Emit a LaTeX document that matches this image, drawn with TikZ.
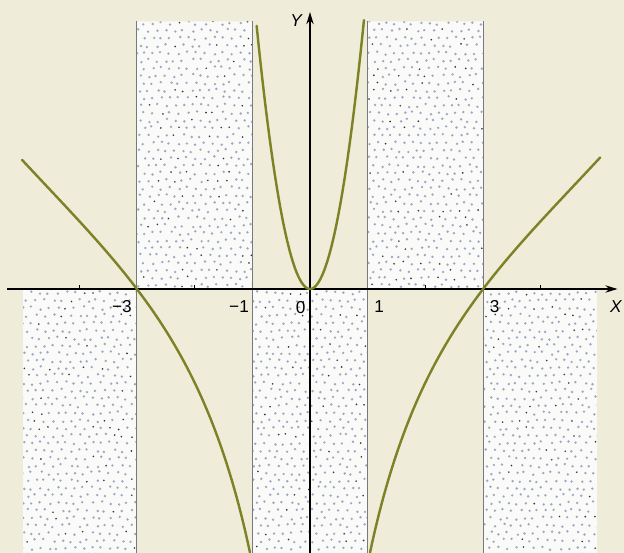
\documentclass[tikz,border=0pt]{standalone}
\usepackage{fontspec}
\setmainfont{Liberation Sans}
\usetikzlibrary{arrows.meta}
\definecolor{bg}{RGB}{239,237,218}
\definecolor{regionfill}{RGB}{250,250,248}
\definecolor{dotlight}{RGB}{160,166,198}
\definecolor{dotdark}{RGB}{50,50,70}
\definecolor{curvecol}{RGB}{125,130,38}
\definecolor{edgecol}{RGB}{120,120,128}
\tikzset{
  axisline/.style={line width=0.7pt, black},
  graphline/.style={line width=1.2pt, curvecol, line cap=round},
  border/.style={line width=0.45pt, edgecol},
  lab/.style={font=\fontsize{8.5}{10}\selectfont, inner sep=0pt},
  tickline/.style={line width=0.5pt, black},
  arrowtip/.style={-{Stealth[length=6pt,width=3.6pt]}},
  declare function={outer(\t)=6.326*ln(\t/3)-0.793*(\t-3)+0.1507*(\t-3)^2;}
}
\begin{document}
\begin{tikzpicture}
\useasboundingbox (-5.373,-4.575) rectangle (5.442,5.009);
\fill[bg] (-5.373,-4.575) rectangle (5.442,5.009);
% stippled regions
\begin{scope}
  \clip (-3,0) rectangle (-1,4.64)
        (1,0) rectangle (3,4.64)
        (-4.97,0) rectangle (-3,-4.575)
        (-1,0) rectangle (1,-4.575)
        (3,0) rectangle (4.97,-4.575);
  \fill[regionfill] (-5,-4.6) rectangle (5,4.7);
  \pgfmathsetseed{7}
  \foreach \i in {0,...,67}{
    \foreach \j in {0,...,72}{
      \pgfmathsetmacro\px{-5.05+\i*0.15+0.075*mod(\j,2)+0.03*rand}
      \pgfmathsetmacro\py{-4.62+\j*0.13+0.03*rand}
      \pgfmathsetmacro\cc{rnd}
      \ifdim\cc pt<0.10pt
        \fill[dotdark] (\px,\py) circle (0.016);
      \else
        \fill[dotlight] (\px,\py) circle (0.023);
      \fi
    }
  }
\end{scope}
% region borders
\foreach \xx in {-3,-1,1,3}{
  \draw[border] (\xx,-4.575) -- (\xx,4.64);
}
% axes
\coordinate (xs) at (-5.25,0);
\coordinate (xe) at (5.33,0);
\coordinate (ys) at (0,-4.575);
\coordinate (ye) at (0,4.80);
\draw[axisline,arrowtip] (xs) -- (xe);
\draw[axisline,arrowtip] (ys) -- (ye);
\foreach \xx in {-4,-2,2,4}{
  \draw[tickline] (\xx,0) -- (\xx,0.07);
}
% curves
\draw[graphline] plot[domain=-0.925:0.935, samples=60] (\x, {5.33*\x*\x});
\draw[graphline] plot[domain=-4.99:-1.04, samples=120] (\x, {outer(-\x)});
\draw[graphline] plot[domain=1.04:5.03, samples=120] (\x, {outer(\x)});
% labels
\node[lab] (lm3) at (-3.26,-0.30) {−3};
\node[lab] (lm1) at (-1.23,-0.30) {−1};
\node[lab] (l0) at (-0.16,-0.33) {0};
\node[lab] (l1) at (1.20,-0.31) {1};
\node[lab] (l3) at (3.20,-0.31) {3};
\node[lab] (lx) at (5.30,-0.31) {\itshape X};
\node[lab] (ly) at (-0.24,4.66) {\itshape Y};
\end{tikzpicture}
\end{document}
